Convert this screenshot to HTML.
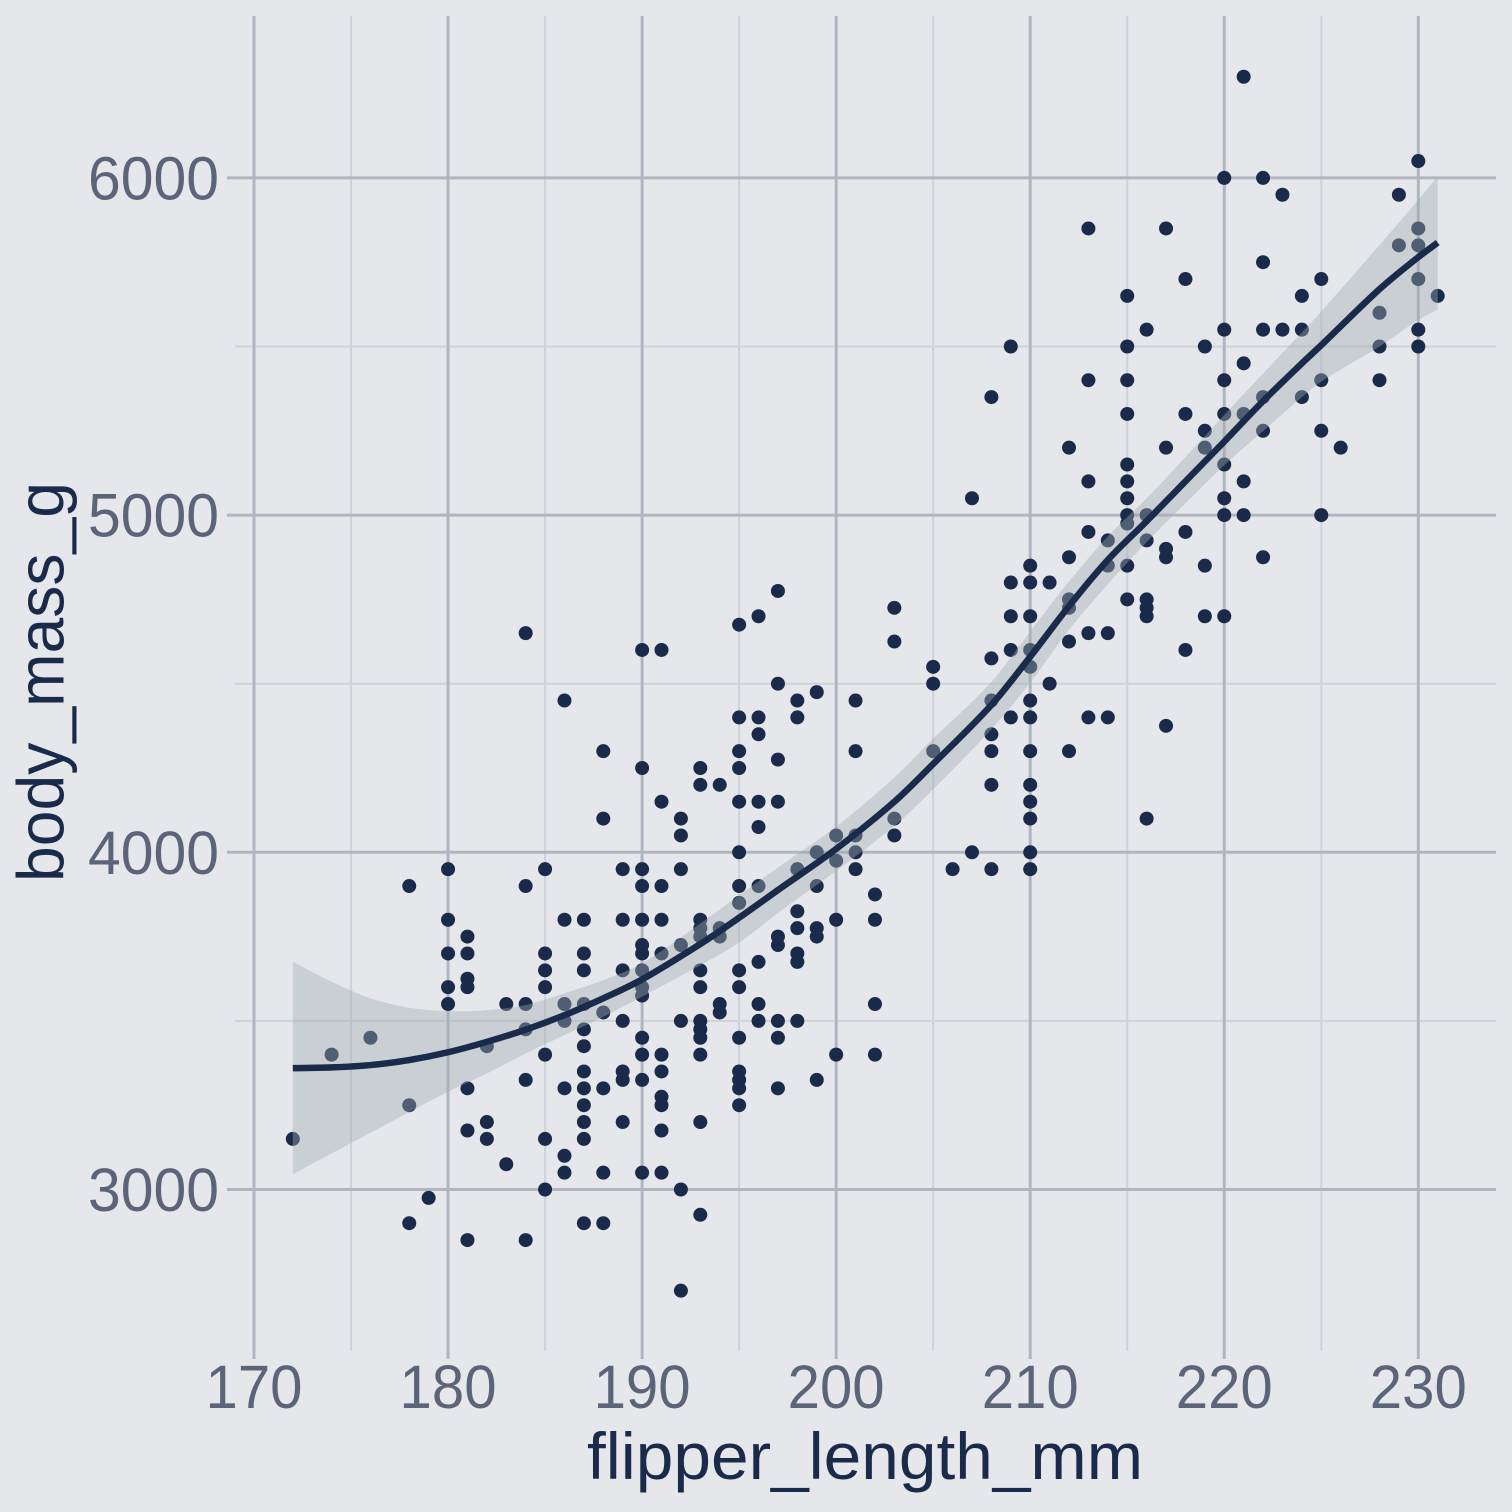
<!DOCTYPE html>
<html lang="en">
<head>
<meta charset="utf-8">
<title>body_mass_g vs flipper_length_mm</title>
<style>
html,body{margin:0;padding:0;background:#E5E7EB;}
svg{display:block;}
text{font-family:"Liberation Sans",sans-serif;}
</style>
</head>
<body>
<svg id="chart" xmlns="http://www.w3.org/2000/svg" width="1512" height="1512" viewBox="0 0 1512 1512">
<rect x="0" y="0" width="1512" height="1512" fill="#E5E7EB"/>
<g id="grid"></g>
<g id="points"></g>
<g id="smooth"></g>
<g id="labels"></g>
<text x="865" y="1479" text-anchor="middle" font-size="66" fill="#1A2A4B" textLength="556" lengthAdjust="spacingAndGlyphs">flipper_length_mm</text>
<text transform="translate(63.5 682) rotate(-90)" x="0" y="0" text-anchor="middle" font-size="66" fill="#1A2A4B" textLength="400" lengthAdjust="spacingAndGlyphs">body_mass_g</text>
</svg>
<script>
const xMajorTicks = [170, 180, 190, 200, 210, 220, 230];
const xMinorTicks = [175, 185, 195, 205, 215, 225];
const yMajorTicks = [3000, 4000, 5000, 6000];
const yMinorTicks = [3500, 4500, 5500];
const xTickLabels = ["170", "180", "190", "200", "210", "220", "230"];
const yTickLabels = ["3000", "4000", "5000", "6000"];

const flipperBins = [172,174,176,178,179,180,181,182,183,184,185,186,187,188,189,190,191,192,193,194,195,196,197,198,199,200,201,202,203,205,206,207,208,209,210,211,212,213,214,215,216,217,218,219,220,221,222,223,224,225,226,228,229,230,231];
const massByBin = [
[3150],
[3400],
[3450],
[3900,3250,2900],
[2975],
[3950,3800,3700,3600,3550],
[3750,3700,3625,3600,3300,3175,2850],
[3425,3200,3150],
[3550,3075],
[4650,3900,3550,3475,3325,2850],
[3950,3700,3650,3600,3400,3150,3000],
[4450,3800,3550,3500,3300,3100,3050],
[3800,3700,3650,3550,3475,3425,3350,3300,3250,3200,3150,2900],
[4300,4100,3525,3300,3050,2900],
[3950,3800,3650,3500,3350,3325,3200],
[4600,4250,3950,3900,3800,3725,3700,3650,3600,3575,3450,3400,3325,3050],
[4600,4150,3900,3800,3700,3400,3350,3275,3250,3175,3050],
[4100,4050,3950,3725,3500,3000,2700],
[4250,4200,3800,3775,3750,3650,3600,3500,3475,3450,3400,3200,2925],
[4200,3775,3750,3550,3525],
[4675,4400,4300,4250,4150,4000,3900,3850,3650,3600,3450,3350,3325,3300,3250],
[4700,4400,4350,4150,4075,3900,3675,3550,3500],
[4775,4500,4275,4150,3750,3725,3500,3450,3300],
[4450,4400,3950,3825,3775,3700,3675,3500],
[4475,4000,3900,3775,3750,3325],
[4050,3975,3800,3400],
[4450,4300,4050,4000,3950],
[3875,3800,3550,3400],
[4725,4625,4100,4050],
[4550,4500,4300],
[3950],
[5050,4000],
[5350,4575,4450,4350,4300,4200,3950],
[5500,4800,4700,4600,4400],
[4850,4800,4700,4600,4550,4450,4400,4300,4200,4150,4100,4000,3950],
[4800,4500],
[5200,4875,4750,4725,4625,4300],
[5850,5400,5100,4950,4650,4400],
[4925,4850,4650,4400],
[5650,5500,5400,5300,5150,5100,5050,5000,4975,4850,4750],
[5550,5000,4925,4750,4725,4700,4100],
[5850,5200,4900,4875,4375],
[5700,5300,4950,4600],
[5500,5250,5200,4850,4700],
[6000,5550,5400,5300,5150,5050,5000,4700],
[6300,5450,5300,5100,5000],
[6000,5750,5550,5350,5250,4875],
[5950,5550],
[5650,5550,5350],
[5700,5400,5250,5000],
[5200],
[5600,5500,5400],
[5950,5800],
[6050,5850,5800,5700,5550,5500],
[5650]
];

const smoothFlipper = [172,174,176,178,180,182,184,186,188,190,193,195,197,200,203,205,208,210,212,214,216,218,220,222,224,225,228,230,231];
const smoothMass = [3360,3362,3369,3384,3407,3438,3474,3517,3567,3623,3728,3806,3888,4010,4150,4262,4437,4580,4730,4867,4982,5100,5218,5338,5450,5504,5670,5765,5808];
const smoothUpper = [3675,3616,3567,3539,3529,3532,3547,3582,3621,3671,3789,3872,3955,4076,4222,4337,4505,4655,4803,4937,5050,5172,5297,5420,5542,5604,5801,5935,6005];
const smoothLower = [3045,3107,3168,3230,3290,3344,3403,3458,3512,3572,3665,3732,3820,3945,4078,4187,4365,4503,4660,4795,4920,5035,5148,5249,5350,5396,5500,5579,5610];

const SVG_NS = "http://www.w3.org/2000/svg";
const xScale = v => 254 + (v - 170) * 19.405;
const yScale = v => 1189.5 - (v - 3000) * 0.3372;

function make(tag, attrs, parent) {
  const el = document.createElementNS(SVG_NS, tag);
  for (const k in attrs) el.setAttribute(k, attrs[k]);
  parent.appendChild(el);
  return el;
}

function curve(pts) {
  let d = "";
  for (let i = 0; i < pts.length - 1; i++) {
    const p0 = pts[Math.max(i - 1, 0)], p1 = pts[i], p2 = pts[i + 1], p3 = pts[Math.min(i + 2, pts.length - 1)];
    const seg = p2[0] - p1[0];
    const m1 = (p2[1] - p0[1]) / (p2[0] - p0[0]);
    const m2 = (p3[1] - p1[1]) / (p3[0] - p1[0]);
    const c1x = p1[0] + seg / 3, c1y = p1[1] + m1 * seg / 3;
    const c2x = p2[0] - seg / 3, c2y = p2[1] - m2 * seg / 3;
    d += " C" + c1x.toFixed(2) + " " + c1y.toFixed(2) + " " + c2x.toFixed(2) + " " + c2y.toFixed(2) + " " + p2[0].toFixed(2) + " " + p2[1].toFixed(2);
  }
  return d;
}

const gridG = document.getElementById("grid");
const pointsG = document.getElementById("points");
const smoothG = document.getElementById("smooth");
const labelsG = document.getElementById("labels");
const PANEL = { left: 235, right: 1496, top: 16, bottom: 1351 };
const MAJOR = "#B1B5BF", MINOR = "#CFD2D9";

xMinorTicks.forEach(v => {
  const el = make("line", { x1: xScale(v), x2: xScale(v), y1: PANEL.top, y2: PANEL.bottom, stroke: MINOR, "stroke-width": 2 }, gridG);
  
  
});
yMinorTicks.forEach(v => {
  const el = make("line", { x1: PANEL.left, x2: PANEL.right, y1: yScale(v), y2: yScale(v), stroke: MINOR, "stroke-width": 2 }, gridG);
  
  
});
xMajorTicks.forEach((v, i) => {
  const el = make("line", { x1: xScale(v), x2: xScale(v), y1: PANEL.top, y2: PANEL.bottom + 8, stroke: MAJOR, "stroke-width": 3 }, gridG);
  
  
  const t = make("text", { x: xScale(v), y: 1408, "text-anchor": "middle", "font-size": 61, fill: "#5B6478", textLength: 97, lengthAdjust: "spacingAndGlyphs" }, labelsG);
  t.textContent = xTickLabels[i];
  
  
});
yMajorTicks.forEach((v, i) => {
  const el = make("line", { x1: PANEL.left - 8, x2: PANEL.right, y1: yScale(v), y2: yScale(v), stroke: MAJOR, "stroke-width": 3 }, gridG);
  
  
  const t = make("text", { x: 219, y: yScale(v) + 21.5, "text-anchor": "end", "font-size": 61, fill: "#5B6478", textLength: 131, lengthAdjust: "spacingAndGlyphs" }, labelsG);
  t.textContent = yTickLabels[i];
  
  
});

flipperBins.forEach((f, i) => {
  massByBin[i].forEach(m => {
    const c = make("circle", { cx: xScale(f), cy: yScale(m), r: 7, fill: "#1A2A4B" }, pointsG);
    
    
  });
});

const upperPts = smoothFlipper.map((f, i) => [xScale(f), yScale(smoothUpper[i])]);
const lowerPts = smoothFlipper.map((f, i) => [xScale(f), yScale(smoothLower[i])]).reverse();
const meanPts = smoothFlipper.map((f, i) => [xScale(f), yScale(smoothMass[i])]);

const ribbon = make("path", {
  d: "M" + upperPts[0][0] + " " + upperPts[0][1] + curve(upperPts) + " L" + lowerPts[0][0] + " " + lowerPts[0][1] + curve(lowerPts) + " Z",
  fill: "#A0ACAF", "fill-opacity": 0.4, stroke: "none"
}, smoothG);



const fit = make("path", {
  d: "M" + meanPts[0][0] + " " + meanPts[0][1] + curve(meanPts),
  fill: "none", stroke: "#1A2A4B", "stroke-width": 6.5
}, smoothG);


</script>
</body>
</html>
